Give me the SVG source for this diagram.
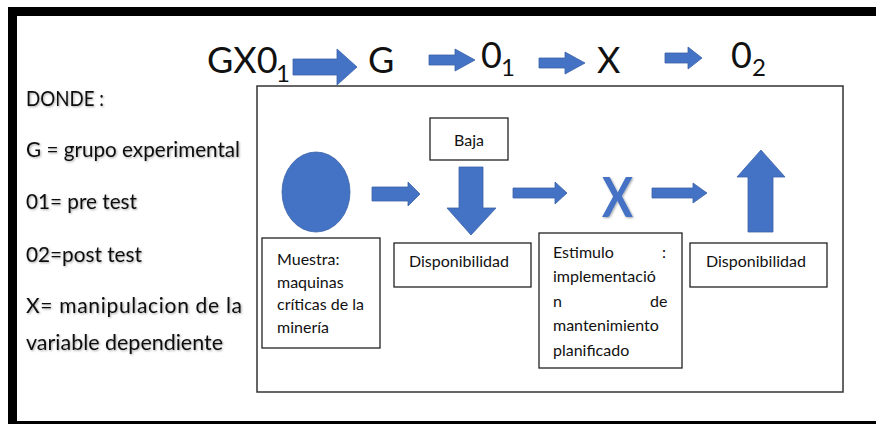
<svg xmlns="http://www.w3.org/2000/svg" width="876" height="424" viewBox="0 0 876 424">
<defs>
<style>
.blue{fill:#4472C4;stroke:#3A62A8;stroke-width:0.8}
.box{fill:#fff;stroke:#222;stroke-width:1.3}
.t{font-family:Lato,"Open Sans",sans-serif;fill:#111}
.lg{font-size:21px}
.sm{font-size:16px}
.ti{font-family:Lato,"Open Sans",sans-serif;fill:#111;font-size:36px}
.sb{font-size:24px}
</style>
<filter id="sh" x="-10%" y="-30%" width="120%" height="160%">
<feDropShadow dx="1" dy="1" stdDeviation="1" flood-color="#000" flood-opacity="0.35"/>
</filter>
</defs>
<rect width="876" height="424" fill="#fff"/>
<g id="frame">
<rect x="8" y="7" width="868" height="9" fill="#000"/>
<rect x="8" y="7" width="9" height="417" fill="#000"/>
<rect x="8" y="421" width="868" height="3" fill="#000"/>
<rect x="257" y="86" width="586" height="306" fill="none" stroke="#333" stroke-width="1.5"/>
</g>
<g id="title">
<text class="ti" x="207" y="73">GX0</text>
<text class="ti sb" x="276" y="82">1</text>
<text class="ti" x="368" y="73">G</text>
<text class="ti" x="481" y="68">0</text>
<text class="ti sb" x="501" y="76">1</text>
<text class="ti" x="597" y="73">X</text>
<text class="ti" x="731" y="68">0</text>
<text class="ti sb" x="752" y="76">2</text>
</g>
<g id="legend" filter="url(#sh)">
<text class="t lg" x="26" y="106" textLength="78" lengthAdjust="spacingAndGlyphs">DONDE :</text>
<text class="t lg" x="26" y="157" textLength="214" lengthAdjust="spacingAndGlyphs">G = grupo experimental</text>
<text class="t lg" x="26" y="209" textLength="111" lengthAdjust="spacingAndGlyphs">01= pre test</text>
<text class="t lg" x="26" y="262" textLength="116" lengthAdjust="spacingAndGlyphs">02=post test</text>
<text class="t lg" x="26" y="313" textLength="216" lengthAdjust="spacing">X=  manipulacion  de  la</text>
<text class="t lg" x="26" y="350" textLength="197" lengthAdjust="spacingAndGlyphs">variable dependiente</text>
</g>
<g id="connectors">
<path class="blue" d="M293,59 H337 V49 L357,67 L337,85 V75 H293 Z"/>
<path class="blue" d="M429,55 H455 V49 L475,60 L455,71 V65 H429 Z"/>
<path class="blue" d="M539,58 H565 V52 L585,63 L565,74 V68 H539 Z"/>
<path class="blue" d="M665,53 H688 V47 L702,58 L688,69 V63 H665 Z"/>
<path class="blue" d="M372,187 H408 V182 L420,194 L408,206 V201 H372 Z"/>
<path class="blue" d="M513,188 H555 V182 L567,193 L555,204 V198 H513 Z"/>
<path class="blue" d="M652,188 H693 V183 L707,193 L693,203 V198 H652 Z"/>
</g>
<g id="muestra-circle"><ellipse class="blue" cx="316" cy="192" rx="34" ry="40"/></g>
<g id="baja">
<rect class="box" x="430" y="118" width="78" height="42"/>
<text class="t sm" x="454" y="146">Baja</text>
</g>
<g id="down-arrow"><path class="blue" d="M459,167 H483 V208 H496 L471,235 L447,208 H459 Z"/></g>
<g id="x-stimulus"><text x="602" y="217" font-family="Lato,'Open Sans',sans-serif" font-weight="bold" font-size="55" fill="#4472C4" textLength="31" lengthAdjust="spacingAndGlyphs" filter="url(#sh)">X</text></g>
<g id="up-arrow"><path class="blue" d="M748,232 V177 H737 L761,150 L785,177 H773 V232 Z"/></g>
<g id="muestra">
<rect class="box" x="262" y="238" width="118" height="110"/>
<text class="t sm" x="277" y="265">Muestra:</text>
<text class="t sm" x="277" y="288">maquinas</text>
<text class="t sm" x="277" y="310">críticas de la</text>
<text class="t sm" x="277" y="333">minería</text>
</g>
<g id="disp1">
<rect class="box" x="394" y="243" width="137" height="44"/>
<text class="t sm" x="409" y="267">Disponibilidad</text>
</g>
<g id="estimulo">
<rect class="box" x="539" y="233" width="143" height="135"/>
<text class="t sm" x="553" y="258">Estimulo</text>
<text class="t sm" x="662" y="258">:</text>
<text class="t sm" x="553" y="282">implementació</text>
<text class="t sm" x="553" y="307">n</text>
<text class="t sm" x="650" y="307">de</text>
<text class="t sm" x="553" y="331">mantenimiento</text>
<text class="t sm" x="553" y="356">planificado</text>
</g>
<g id="disp2">
<rect class="box" x="690" y="243" width="137" height="44"/>
<text class="t sm" x="706" y="267">Disponibilidad</text>
</g>
</svg>
